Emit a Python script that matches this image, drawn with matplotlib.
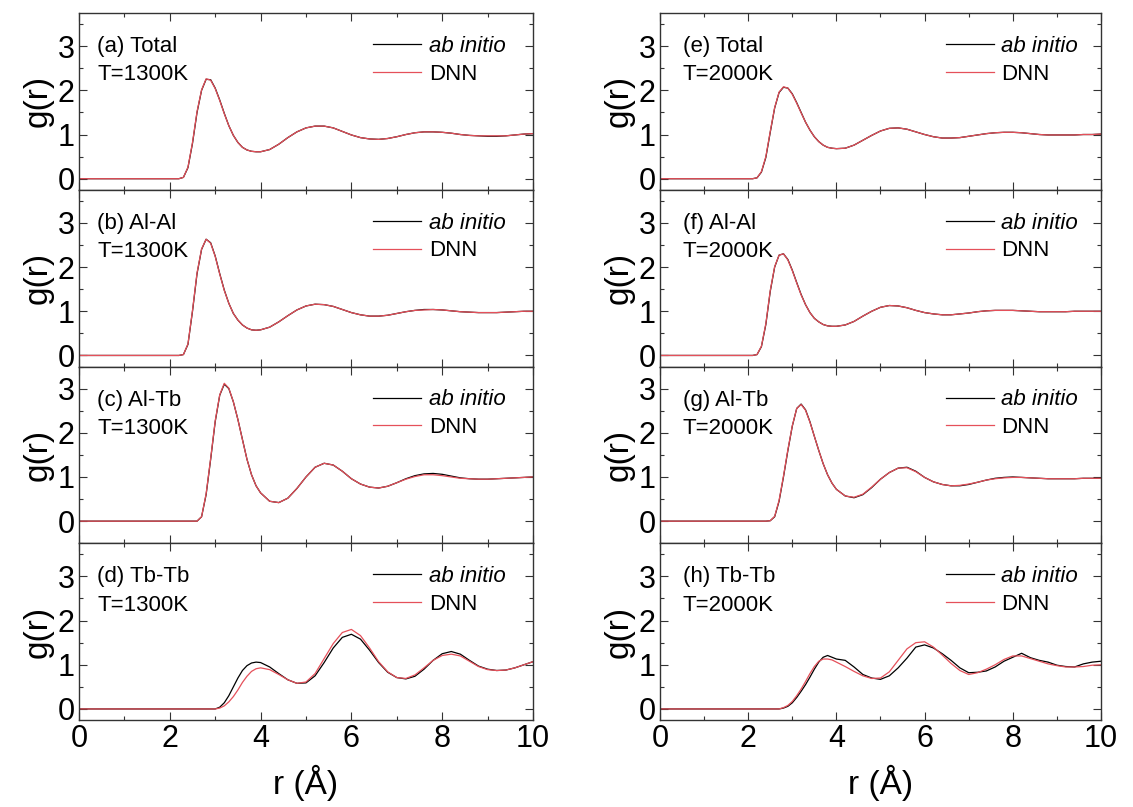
import numpy as np
import matplotlib
matplotlib.use('Agg')
import matplotlib.pyplot as plt
from matplotlib.ticker import MultipleLocator

plt.rcParams['font.family'] = ['Liberation Sans', 'DejaVu Sans']

# common r grid (Angstrom)
R = [0.0,
     2.0, 2.1, 2.2, 2.3, 2.4, 2.5, 2.6, 2.7, 2.8, 2.9, 3.0, 3.1, 3.2, 3.3, 3.4, 3.5, 3.6, 3.7, 3.8, 3.9, 4.0,
     4.2, 4.4, 4.6, 4.8, 5.0, 5.2, 5.4, 5.6, 5.8, 6.0,
     6.2, 6.4, 6.6, 6.8, 7.0, 7.2, 7.4, 7.6, 7.8, 8.0,
     8.2, 8.4, 8.6, 8.8, 9.0, 9.2, 9.4, 9.6, 9.8, 10.0]

# (a) Total, 1300K
a_ab = [0.0,
        0.0, 0.0, 0.0, 0.03, 0.25, 0.8, 1.5, 2.0, 2.25, 2.24, 2.05, 1.78, 1.48, 1.2, 0.98, 0.82, 0.71, 0.65, 0.62, 0.61, 0.61,
        0.66, 0.78, 0.93, 1.06, 1.15, 1.19, 1.19, 1.15, 1.07, 0.99,
        0.93, 0.9, 0.89, 0.91, 0.95, 1.0, 1.04, 1.06, 1.06, 1.05,
        1.03, 1.0, 0.98, 0.97, 0.96, 0.96, 0.97, 0.99, 1.01, 1.02]
a_dnn = [0.0,
         0.0, 0.0, 0.0, 0.03, 0.26, 0.82, 1.52, 2.01, 2.26, 2.23, 2.04, 1.77, 1.47, 1.2, 0.98, 0.82, 0.71, 0.65, 0.62, 0.61, 0.61,
         0.66, 0.78, 0.93, 1.06, 1.15, 1.19, 1.19, 1.15, 1.07, 0.99,
         0.93, 0.9, 0.89, 0.91, 0.95, 1.0, 1.04, 1.06, 1.06, 1.05,
         1.03, 1.0, 0.98, 0.97, 0.97, 0.97, 0.97, 0.99, 1.01, 1.02]
# (b) Al-Al, 1300K
b_ab = [0.0,
        0.0, 0.0, 0.0, 0.02, 0.25, 1.0, 1.85, 2.4, 2.63, 2.55, 2.25, 1.85, 1.48, 1.18, 0.95, 0.8, 0.69, 0.62, 0.58, 0.57, 0.58,
        0.64, 0.76, 0.9, 1.03, 1.12, 1.16, 1.15, 1.11, 1.04, 0.97,
        0.92, 0.89, 0.89, 0.91, 0.95, 0.99, 1.02, 1.04, 1.04, 1.03,
        1.01, 0.99, 0.98, 0.97, 0.97, 0.97, 0.98, 0.99, 1.0, 1.0]
b_dnn = [0.0,
         0.0, 0.0, 0.0, 0.02, 0.26, 1.02, 1.87, 2.41, 2.63, 2.54, 2.24, 1.84, 1.47, 1.18, 0.95, 0.8, 0.69, 0.62, 0.58, 0.57, 0.58,
         0.64, 0.76, 0.9, 1.03, 1.12, 1.16, 1.15, 1.11, 1.04, 0.97,
         0.92, 0.89, 0.89, 0.91, 0.95, 0.99, 1.02, 1.03, 1.04, 1.03,
         1.01, 0.99, 0.98, 0.97, 0.97, 0.97, 0.98, 0.99, 1.0, 1.0]
# (c) Al-Tb, 1300K
c_ab = [0.0,
        0.0, 0.0, 0.0, 0.0, 0.0, 0.0, 0.0, 0.1, 0.6, 1.4, 2.25, 2.85, 3.1, 3.0, 2.7, 2.3, 1.85, 1.4, 1.05, 0.8, 0.64,
        0.45, 0.42, 0.52, 0.74, 1.0, 1.22, 1.31, 1.27, 1.13, 0.96,
        0.84, 0.77, 0.75, 0.79, 0.87, 0.96, 1.03, 1.07, 1.08, 1.06,
        1.02, 0.98, 0.96, 0.95, 0.95, 0.96, 0.97, 0.98, 0.99, 1.0]
c_dnn = [0.0,
         0.0, 0.0, 0.0, 0.0, 0.0, 0.0, 0.0, 0.1, 0.62, 1.42, 2.27, 2.86, 3.12, 3.01, 2.7, 2.3, 1.84, 1.4, 1.05, 0.8, 0.64,
         0.45, 0.42, 0.52, 0.74, 1.0, 1.22, 1.31, 1.27, 1.13, 0.96,
         0.84, 0.77, 0.75, 0.79, 0.87, 0.95, 1.01, 1.05, 1.05, 1.03,
         1.0, 0.97, 0.96, 0.95, 0.95, 0.96, 0.97, 0.98, 0.99, 1.0]
# (d) Tb-Tb, 1300K
d_ab = [0.0,
        0.0, 0.0, 0.0, 0.0, 0.0, 0.0, 0.0, 0.0, 0.0, 0.0, 0.0, 0.04, 0.14, 0.3, 0.5, 0.7, 0.87, 0.98, 1.04, 1.06, 1.05,
        0.95, 0.8, 0.66, 0.58, 0.59, 0.75, 1.05, 1.38, 1.62, 1.69,
        1.58, 1.33, 1.05, 0.83, 0.71, 0.68, 0.74, 0.9, 1.1, 1.25,
        1.3, 1.24, 1.1, 0.97, 0.9, 0.87, 0.88, 0.93, 1.0, 1.07]
d_dnn = [0.0,
         0.0, 0.0, 0.0, 0.0, 0.0, 0.0, 0.0, 0.0, 0.0, 0.0, 0.0, 0.02, 0.07, 0.16, 0.28, 0.43, 0.6, 0.74, 0.85, 0.91, 0.93,
         0.89, 0.78, 0.66, 0.58, 0.61, 0.8, 1.14, 1.48, 1.73, 1.8,
         1.66, 1.38, 1.07, 0.84, 0.71, 0.69, 0.77, 0.93, 1.1, 1.21,
         1.24, 1.2, 1.08, 0.96, 0.89, 0.87, 0.88, 0.93, 1.0, 1.07]
# (e) Total, 2000K
e_ab = [0.0,
        0.0, 0.0, 0.02, 0.15, 0.48, 1.05, 1.6, 1.95, 2.07, 2.05, 1.92, 1.72, 1.5, 1.28, 1.1, 0.95, 0.84, 0.76, 0.71, 0.69, 0.68,
        0.69, 0.76, 0.87, 0.98, 1.08, 1.14, 1.15, 1.12, 1.06, 1.0,
        0.95, 0.92, 0.92, 0.93, 0.96, 0.99, 1.02, 1.04, 1.05, 1.05,
        1.04, 1.02, 1.0, 0.99, 0.99, 0.99, 0.99, 1.0, 1.0, 1.01]
e_dnn = [0.0,
         0.0, 0.0, 0.02, 0.16, 0.5, 1.07, 1.61, 1.96, 2.08, 2.05, 1.91, 1.71, 1.49, 1.28, 1.1, 0.95, 0.84, 0.76, 0.71, 0.69, 0.68,
         0.69, 0.76, 0.87, 0.98, 1.08, 1.14, 1.15, 1.12, 1.06, 1.0,
         0.95, 0.92, 0.92, 0.93, 0.96, 0.99, 1.02, 1.04, 1.05, 1.05,
         1.04, 1.02, 1.0, 0.99, 0.99, 0.99, 0.99, 1.0, 1.0, 1.01]
# (f) Al-Al, 2000K
f_ab = [0.0,
        0.0, 0.0, 0.02, 0.2, 0.7, 1.45, 2.0, 2.27, 2.3, 2.17, 1.93, 1.65, 1.38, 1.15, 0.97, 0.84, 0.76, 0.7, 0.67, 0.66, 0.66,
        0.69, 0.77, 0.89, 1.0, 1.09, 1.13, 1.12, 1.08, 1.02, 0.97,
        0.94, 0.92, 0.92, 0.94, 0.96, 0.99, 1.01, 1.02, 1.02, 1.02,
        1.01, 1.0, 0.99, 0.99, 0.99, 0.99, 1.0, 1.0, 1.0, 1.0]
f_dnn = [0.0,
         0.0, 0.0, 0.02, 0.21, 0.72, 1.47, 2.01, 2.27, 2.3, 2.16, 1.92, 1.64, 1.37, 1.15, 0.97, 0.84, 0.76, 0.7, 0.67, 0.66, 0.66,
         0.69, 0.77, 0.89, 1.0, 1.09, 1.13, 1.12, 1.08, 1.02, 0.97,
         0.94, 0.92, 0.92, 0.94, 0.96, 0.99, 1.01, 1.02, 1.02, 1.02,
         1.01, 1.0, 0.99, 0.99, 0.99, 0.99, 1.0, 1.0, 1.0, 1.0]
# (g) Al-Tb, 2000K
g_ab = [0.0,
        0.0, 0.0, 0.0, 0.0, 0.0, 0.01, 0.1, 0.45, 1.0, 1.6, 2.15, 2.55, 2.65, 2.52, 2.25, 1.92, 1.6, 1.3, 1.05, 0.86, 0.72,
        0.57, 0.53, 0.6, 0.76, 0.95, 1.1, 1.2, 1.22, 1.13, 0.99,
        0.89, 0.83, 0.8, 0.8, 0.83, 0.88, 0.93, 0.97, 0.99, 1.0,
        0.99, 0.98, 0.97, 0.96, 0.96, 0.96, 0.96, 0.97, 0.97, 0.97]
g_dnn = [0.0,
         0.0, 0.0, 0.0, 0.0, 0.0, 0.01, 0.11, 0.47, 1.02, 1.62, 2.16, 2.55, 2.64, 2.51, 2.24, 1.92, 1.6, 1.3, 1.05, 0.86, 0.72,
         0.57, 0.54, 0.61, 0.77, 0.95, 1.1, 1.2, 1.21, 1.12, 0.99,
         0.89, 0.83, 0.8, 0.81, 0.84, 0.88, 0.93, 0.96, 0.98, 0.99,
         0.99, 0.98, 0.97, 0.96, 0.96, 0.96, 0.96, 0.97, 0.97, 0.97]
# (h) Tb-Tb, 2000K
h_ab = [0.0,
        0.0, 0.0, 0.0, 0.0, 0.0, 0.0, 0.0, 0.0, 0.02, 0.06, 0.14, 0.26, 0.4, 0.55, 0.72, 0.9, 1.06, 1.17, 1.21, 1.17, 1.13,
        1.1, 0.95, 0.78, 0.7, 0.67, 0.75, 0.93, 1.15, 1.4, 1.45,
        1.38, 1.25, 1.1, 0.93, 0.82, 0.83, 0.86, 0.95, 1.08, 1.17,
        1.26, 1.16, 1.1, 1.06, 0.99, 0.96, 0.95, 1.02, 1.06, 1.08]
h_dnn = [0.0,
         0.0, 0.0, 0.0, 0.0, 0.0, 0.0, 0.0, 0.0, 0.03, 0.08, 0.17, 0.3, 0.45, 0.62, 0.8, 0.96, 1.08, 1.13, 1.13, 1.11, 1.06,
         0.96, 0.85, 0.75, 0.69, 0.7, 0.84, 1.1, 1.36, 1.5, 1.52,
         1.4, 1.22, 1.03, 0.87, 0.78, 0.82, 0.9, 1.0, 1.12, 1.2,
         1.2, 1.14, 1.08, 1.02, 0.98, 0.95, 0.95, 0.96, 0.99, 1.0]

panel_names = ['(a) Total', '(b) Al-Al', '(c) Al-Tb', '(d) Tb-Tb',
               '(e) Total', '(f) Al-Al', '(g) Al-Tb', '(h) Tb-Tb']
temps = ['T=1300K'] * 4 + ['T=2000K'] * 4
ab_series = [a_ab, b_ab, c_ab, d_ab, e_ab, f_ab, g_ab, h_ab]
dnn_series = [a_dnn, b_dnn, c_dnn, d_dnn, e_dnn, f_dnn, g_dnn, h_dnn]
ylims = [(-0.25, 3.75), (-0.25, 3.75), (-0.5, 3.5), (-0.25, 3.75)] * 2
legend_labels = ['ab initio', 'DNN']
xticks = [0, 2, 4, 6, 8, 10]
yticks = [0, 1, 2, 3]

for s in ab_series + dnn_series:
    assert len(s) == len(R), len(s)

W, H = 1133, 807
fig = plt.figure(figsize=(W / 100, H / 100), dpi=100)

col_left = [79 / W, 660 / W]
col_width = [454 / W, 441 / W]
top_px, bottom_px = 13, 720
ph = (bottom_px - top_px) / 4

red = '#e5505a'
for i in range(8):
    col, row = divmod(i, 4)
    y0 = 1 - (top_px + (row + 1) * ph) / H
    ax = fig.add_axes([col_left[col], y0, col_width[col], ph / H])
    ax.plot(R, ab_series[i], color='black', lw=0.9, label=legend_labels[0])
    ax.plot(R, dnn_series[i], color=red, lw=0.9, label=legend_labels[1])
    ax.set_xlim(0, 10)
    ax.set_ylim(*ylims[i])
    ax.set_xticks(xticks)
    ax.set_yticks(yticks)
    ax.xaxis.set_minor_locator(MultipleLocator(1))
    ax.yaxis.set_minor_locator(MultipleLocator(0.5))
    ax.tick_params(which='both', direction='in', top=True, right=True, width=0.8, color='#333333')
    ax.tick_params(which='major', length=6, labelsize=22, pad=3)
    ax.tick_params(which='minor', length=3)
    for sp in ax.spines.values():
        sp.set_linewidth(1.0)
        sp.set_color('#333333')
    ax.set_ylabel('g(r)', fontsize=24, labelpad=3)
    if row < 3:
        ax.tick_params(labelbottom=False)
    else:
        ax.set_xlabel('r (Å)', fontsize=24, labelpad=8)
    tx = 0.04 if col == 0 else 0.052
    ax.text(tx, 0.81, panel_names[i], transform=ax.transAxes, fontsize=16, va='center', ha='left')
    ax.text(tx, 0.65, temps[i], transform=ax.transAxes, fontsize=16, va='center', ha='left')
    lx = 0.648
    leg = ax.legend(loc='upper left', bbox_to_anchor=(lx, 0.87), frameon=False,
                    fontsize=16, handlelength=2.15, handletextpad=0.35,
                    labelspacing=0.3, borderaxespad=0, borderpad=0)
    leg.get_texts()[0].set_fontstyle('italic')

fig.savefig('out.png', dpi=100)
